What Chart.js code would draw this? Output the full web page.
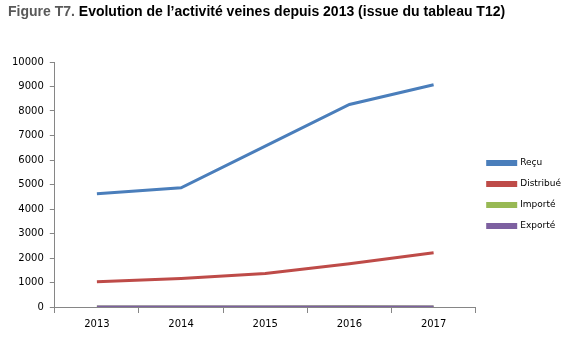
<!DOCTYPE html>
<html><head><meta charset="utf-8">
<script src="https://cdn.jsdelivr.net/npm/chart.js@4"></script>
<style>
html,body{margin:0;padding:0;background:#fff;}
#wrap{position:relative;width:575px;height:340px;}
#title{position:absolute;left:8px;top:3px;font:bold 14px "Liberation Sans",Arial,sans-serif;color:#000;white-space:nowrap;}
#title span{color:#595959;}
canvas{position:absolute;left:0;top:0;}
</style></head><body>
<div id="wrap">
<canvas id="c" width="575" height="340"></canvas>
<div id="title"><span>Figure T7.</span> Evolution de l’activité veines depuis 2013 (issue du tableau T12)</div>
</div>
<script>
const categories = ["2013","2014","2015","2016","2017"];
const recu = [4620, 4865, 6570, 8265, 9070];
const distribue = [1030, 1160, 1365, 1765, 2210];
const importe = [5, 5, 5, 8, 5];
const exporte = [5, 5, 5, 5, 5];
const yTicks = [0,1000,2000,3000,4000,5000,6000,7000,8000,9000,10000];

const font = {family:"DejaVu Sans", size:10};
const mk = (label, data, color, order) => ({label, data, order, borderColor:color, backgroundColor:color, borderWidth:3, pointRadius:0, tension:0, fill:false});
const shiftLegend = {
  id:'shiftLegend',
  afterLayout(chart){ const l = chart.legend; if(l){ l.top -= 4; l.bottom -= 4; } }
};
new Chart(document.getElementById('c'), {
  type:'line',
  data:{labels:categories, datasets:[
    mk('Reçu', recu, '#4a7ebb', 0),
    mk('Distribué', distribue, '#be4b48', 0),
    mk('Importé', importe, '#98b954', 0),
    mk('Exporté', exporte, '#7d60a0', -1)
  ]},
  options:{
    responsive:false, animation:false,
    layout:{padding:{left:6, top:62, right:4, bottom:5}},
    plugins:{
      legend:{position:'right', align:'center',
        labels:{boxWidth:28, boxHeight:3, padding:12, color:'#000', font:{family:"DejaVu Sans", size:9},
          sort:(a,b)=>a.datasetIndex-b.datasetIndex}},
      tooltip:{enabled:false}
    },
    scales:{
      x:{offset:true,
        grid:{display:true, drawOnChartArea:false, offset:true, tickLength:6, color:'#868686'},
        border:{color:'#868686'},
        ticks:{color:'#000', font, padding:5}},
      y:{min:0, max:10000,
        afterBuildTicks: ax => { ax.ticks = yTicks.map(v=>({value:v})); },
        grid:{display:true, drawOnChartArea:false, tickLength:5, color:'#868686'},
        border:{color:'#868686'},
        ticks:{color:'#000', font, padding:6, callback:v=>String(v)}}
    }
  },
  plugins:[shiftLegend]
});
</script>
</body></html>
